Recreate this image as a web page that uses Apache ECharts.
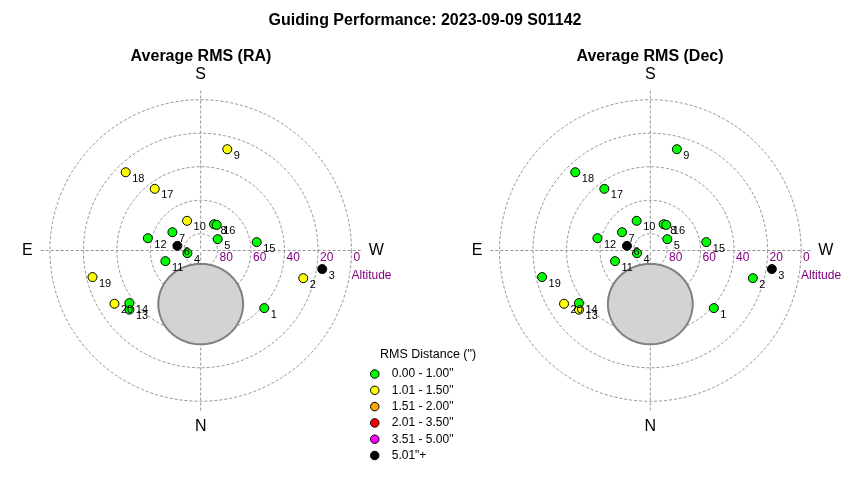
<!DOCTYPE html>
<html>
<head>
<meta charset="utf-8">
<script src="https://cdn.jsdelivr.net/npm/echarts@6/dist/echarts.min.js"></script>
<style>html,body{margin:0;padding:0;background:#fff;}#chart{width:850px;height:480px;}</style>
</head>
<body>
<div id="chart"></div>
<script>
// ---- data ----
const pointIds = [1,2,3,4,5,6,7,8,9,10,11,12,13,14,15,16,17,18,19,20];
const pointAlt = [38.8,26.6,16.6,81.9,77.8,75.8,69.9,72.4,27.5,70.5,68.0,57.6,34.7,37.1,56.2,72.0,44.1,25.3,23.5,29.5];
const pointAz  = [312.2,285.1,278.7,78.7,236.3,101.3,122.9,206.9,194.7,155.3,73.2,103.1,50.3,53.6,261.5,212.0,143.3,136.2,76.2,58.3];
// RMS bin index per point (0 = 0.00-1.00", 1 = 1.01-1.50", ... 5 = 5.01"+)
const raBin  = [0,1,5,0,0,5,0,0,1,1,0,0,0,0,0,0,1,1,1,1];
const decBin = [0,0,5,0,0,5,0,0,0,0,0,0,1,0,0,0,0,0,0,1];
const binNames = ['0.00 - 1.00"','1.01 - 1.50"','1.51 - 2.00"','2.01 - 3.50"','3.51 - 5.00"','5.01"+'];
const ringAlts = [80,60,40,20,0];
const compassLabels = {0:'N',90:'E',180:'S',270:'W'};
const excludedAlt = 58, excludedAz = 0, excludedRadius = 24;
const mainTitle = 'Guiding Performance: 2023-09-09 S01142';
const panelTitles = ['Average RMS (RA)','Average RMS (Dec)'];
const legendTitle = 'RMS Distance (")';

// ---- styling ----
const FONT = '"Liberation Sans", Arial, sans-serif';
const binColors = ['#00ff00','#ffff00','#ffa500','#ff0000','#ff00ff','#000000'];
const gridColor = '#949494';

function ringRender(params, api) {
  const alt = api.value(2);
  const c = api.coord([0, 0]);
  const e = api.coord([90 - alt, 270]);
  const r = Math.hypot(e[0] - c[0], e[1] - c[1]);
  const children = [
    {type:'circle', silent:true, shape:{cx:c[0], cy:c[1], r:r},
     style:{fill:'none', stroke:gridColor, lineWidth:1, lineDash:[3,2]}},
    {type:'text', silent:true, x:e[0] + 2, y:e[1] + 1,
     style:{text:String(alt), fill:'#800080', fontSize:12, fontFamily:FONT, align:'left', verticalAlign:'top'}}
  ];
  if (alt === 0) {
    children.push({type:'text', silent:true, x:e[0], y:e[1] + 19,
      style:{text:'Altitude', fill:'#800080', fontSize:12, fontFamily:FONT, align:'left', verticalAlign:'top'}});
  }
  return {type:'group', children:children};
}

function discRender(params, api) {
  const d2r = Math.PI / 180;
  const a0 = excludedAlt * d2r, z0 = excludedAz * d2r, d = excludedRadius * d2r;
  const pts = [];
  for (let b = 0; b < 360; b += 3) {
    const br = b * d2r;
    const alt = Math.asin(Math.sin(a0) * Math.cos(d) + Math.cos(a0) * Math.sin(d) * Math.cos(br));
    let az = z0 + Math.atan2(Math.sin(br) * Math.sin(d) * Math.cos(a0), Math.cos(d) - Math.sin(a0) * Math.sin(alt));
    let azDeg = ((az / d2r) % 360 + 360) % 360;
    pts.push(api.coord([90 - alt / d2r, azDeg]));
  }
  return {type:'polygon', silent:true, shape:{points:pts},
    style:{fill:'#d3d3d3', stroke:'#808080', lineWidth:2}};
}

function pointData(bins) {
  return pointIds.map((id, i) => ({
    name: String(id),
    value: [90 - pointAlt[i], pointAz[i]],
    itemStyle: {color: binColors[bins[i]]}
  }));
}

const centers = [[200.7, 250.5], [650.3, 250.5]];
const polar = centers.map(c => ({center: c, radius: 160}));
const angleAxis = centers.map((c, k) => ({
  polarIndex: k, type: 'value', min: 0, max: 360, interval: 90,
  startAngle: 270, clockwise: true,
  axisLine: {show: false}, axisTick: {show: false},
  splitLine: {show: true, lineStyle: {color: gridColor, width: 1, type: [3, 2]}},
  axisLabel: {formatter: v => compassLabels[v] || '', fontSize: 16, color: '#000', fontFamily: FONT, margin: 8}
}));
const radiusAxis = centers.map((c, k) => ({
  polarIndex: k, type: 'value', min: 0, max: 95.5,
  axisLine: {show: false}, axisTick: {show: false}, axisLabel: {show: false}, splitLine: {show: false}
}));

const series = [];
[raBin, decBin].forEach((bins, k) => {
  series.push({type:'custom', coordinateSystem:'polar', polarIndex:k, z:1, silent:true,
    renderItem: ringRender, data: ringAlts.map(a => [90 - a, 270, a])});
  series.push({type:'custom', coordinateSystem:'polar', polarIndex:k, z:2, silent:true,
    renderItem: discRender, data: [[90 - excludedAlt, excludedAz]]});
  series.push({type:'scatter', coordinateSystem:'polar', polarIndex:k, z:3,
    symbol:'circle', symbolSize:9,
    itemStyle:{borderColor:'#000', borderWidth:1, opacity:1},
    label:{show:true, formatter:'{b}', position:'right', distance:0, offset:[1.5, 6.5],
      fontSize:11, color:'#000', fontFamily:FONT},
    data: pointData(bins)});
});
binNames.forEach((n, k) => {
  series.push({name:n, type:'scatter', coordinateSystem:'polar', polarIndex:0, data:[],
    symbol:'circle', symbolSize:9, itemStyle:{color:binColors[k], borderColor:'#000', borderWidth:1}});
});

const chart = echarts.init(document.getElementById('chart'), null, {renderer:'canvas'});
chart.setOption({
  animation: false,
  backgroundColor: '#fff',
  textStyle: {fontFamily: FONT},
  title: [
    {text: mainTitle, left: 'center', top: 8, textStyle: {fontSize: 16, fontWeight: 'bold', color: '#000', fontFamily: FONT}},
    {text: panelTitles[0], left: 196, textAlign: 'center', top: 44, textStyle: {fontSize: 16, fontWeight: 'bold', color: '#000', fontFamily: FONT}},
    {text: panelTitles[1], left: 645, textAlign: 'center', top: 44, textStyle: {fontSize: 16, fontWeight: 'bold', color: '#000', fontFamily: FONT}},
    {text: legendTitle, left: 375, top: 343, textStyle: {fontSize: 12.5, fontWeight: 'normal', color: '#000', fontFamily: FONT}}
  ],
  legend: {
    data: binNames.map((n, k) => ({name: n, icon: 'circle',
      itemStyle: {color: binColors[k], borderColor: '#000', borderWidth: 1, opacity: 1}})),
    orient: 'vertical', left: 370, top: 368, height: 110, padding: 0,
    itemWidth: 24, itemHeight: 8.5, itemGap: 4.3, selectedMode: false,
    textStyle: {fontSize: 12, lineHeight: 12, color: '#000', fontFamily: FONT}
  },
  polar: polar,
  angleAxis: angleAxis,
  radiusAxis: radiusAxis,
  series: series
});
</script>
</body>
</html>
